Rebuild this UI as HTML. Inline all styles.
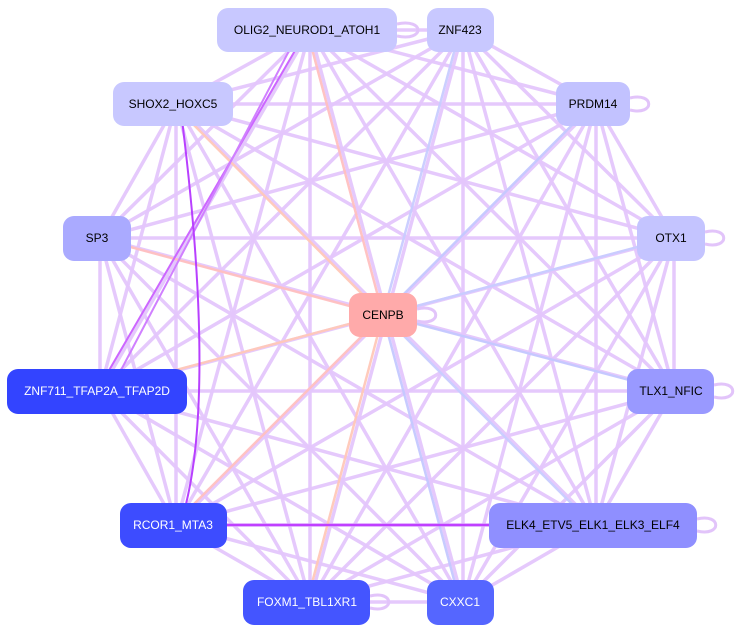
<!DOCTYPE html>
<html><head><meta charset="utf-8"><style>
body{margin:0;background:#fff;}
svg{display:block;}
text{font-family:"Liberation Sans",sans-serif;font-size:12px;}
</style></head><body>
<svg id="s" width="746" height="632" viewBox="0 0 746 632" xmlns="http://www.w3.org/2000/svg">
<g id="edges"></g>
<g fill="none" stroke="#e2c4fa" stroke-width="3">
<path d="M397 24 C425 18 425 42 397 36"/>
<path d="M630 98 C655 92 655 116 630 110"/>
<path d="M705 232 C730 226 730 250 705 244"/>
<path d="M417 309 C442 303 442 327 417 321"/>
<path d="M714 385 C739 379 739 403 714 397"/>
<path d="M697 519 C722 513 722 537 697 531"/>
<path d="M370 596 C395 590 395 614 370 608"/>
</g>
<g id="nodes">
<rect x="217" y="8" width="180" height="44" rx="11" fill="#c8c8ff"/><text x="307" y="34" text-anchor="middle">OLIG2_NEUROD1_ATOH1</text>
<rect x="427" y="8" width="67" height="44" rx="11" fill="#c8c8ff"/><text x="460" y="34" text-anchor="middle">ZNF423</text>
<rect x="113" y="82" width="120" height="44" rx="11" fill="#c8c8ff"/><text x="173" y="108" text-anchor="middle">SHOX2_HOXC5</text>
<rect x="556" y="82" width="74" height="44" rx="11" fill="#c2c2ff"/><text x="593" y="108" text-anchor="middle">PRDM14</text>
<rect x="63" y="216" width="68" height="45" rx="11" fill="#aaaaff"/><text x="97" y="242" text-anchor="middle">SP3</text>
<rect x="637" y="216" width="68" height="45" rx="11" fill="#c4c4ff"/><text x="671" y="242" text-anchor="middle">OTX1</text>
<rect x="349" y="293" width="68" height="44" rx="11" fill="#ffaaaa"/><text x="383" y="319" text-anchor="middle">CENPB</text>
<rect x="7" y="369" width="180" height="45" rx="11" fill="#3344ff"/><text x="97" y="395" text-anchor="middle" fill="#fff">ZNF711_TFAP2A_TFAP2D</text>
<rect x="627" y="369" width="87" height="45" rx="11" fill="#9999ff"/><text x="671" y="395" text-anchor="middle">TLX1_NFIC</text>
<rect x="120" y="503" width="107" height="45" rx="11" fill="#3d4cff"/><text x="173" y="529" text-anchor="middle" fill="#fff">RCOR1_MTA3</text>
<rect x="489" y="503" width="208" height="45" rx="11" fill="#8f8fff"/><text x="593" y="529" text-anchor="middle">ELK4_ETV5_ELK1_ELK3_ELF4</text>
<rect x="243" y="580" width="127" height="45" rx="11" fill="#4455ff"/><text x="307" y="606" text-anchor="middle" fill="#fff">FOXM1_TBL1XR1</text>
<rect x="427" y="580" width="67" height="45" rx="11" fill="#5566ff"/><text x="460" y="606" text-anchor="middle" fill="#fff">CXXC1</text>
</g>
</svg>
<script>
var P=[[307,30],[460,30],[173,104],[593,104],[97,238],[671,238],[97,391],[671,391],[173,525],[593,525],[307,602],[460,602]];
var C=[383,315];
var g=document.getElementById('edges');var ns='http://www.w3.org/2000/svg';
function L(a,b,c,w,o){var l=document.createElementNS(ns,'line');l.setAttribute('x1',a[0]);l.setAttribute('y1',a[1]);l.setAttribute('x2',b[0]);l.setAttribute('y2',b[1]);l.setAttribute('stroke',c);l.setAttribute('stroke-width',w);l.setAttribute('stroke-opacity',o);g.appendChild(l);}
for(var i=0;i<P.length;i++)for(var j=i+1;j<P.length;j++){L([P[i][0]+3,P[i][1]],[P[j][0]+3,P[j][1]],'#e4c6fc',3.5,0.95);}
var cc=['#ffc0c0','#c8ccff','#ffc8b8','#c4c8ff'];
for(var i=0;i<P.length;i++)L(C,P[i],cc[i%4],2.5,0.95);
L(P[8],P[9],'#c040ff',2.5,1);L(P[6],P[0],'#cc66ff',2,1);L([110,391],[300,30],'#d080ff',2,1);
var p=document.createElementNS(ns,'path');p.setAttribute('d','M180 525 C215 420 195 220 180 104');p.setAttribute('stroke','#b840ff');p.setAttribute('stroke-width','2');p.setAttribute('fill','none');g.appendChild(p);
</script>
</body></html>
